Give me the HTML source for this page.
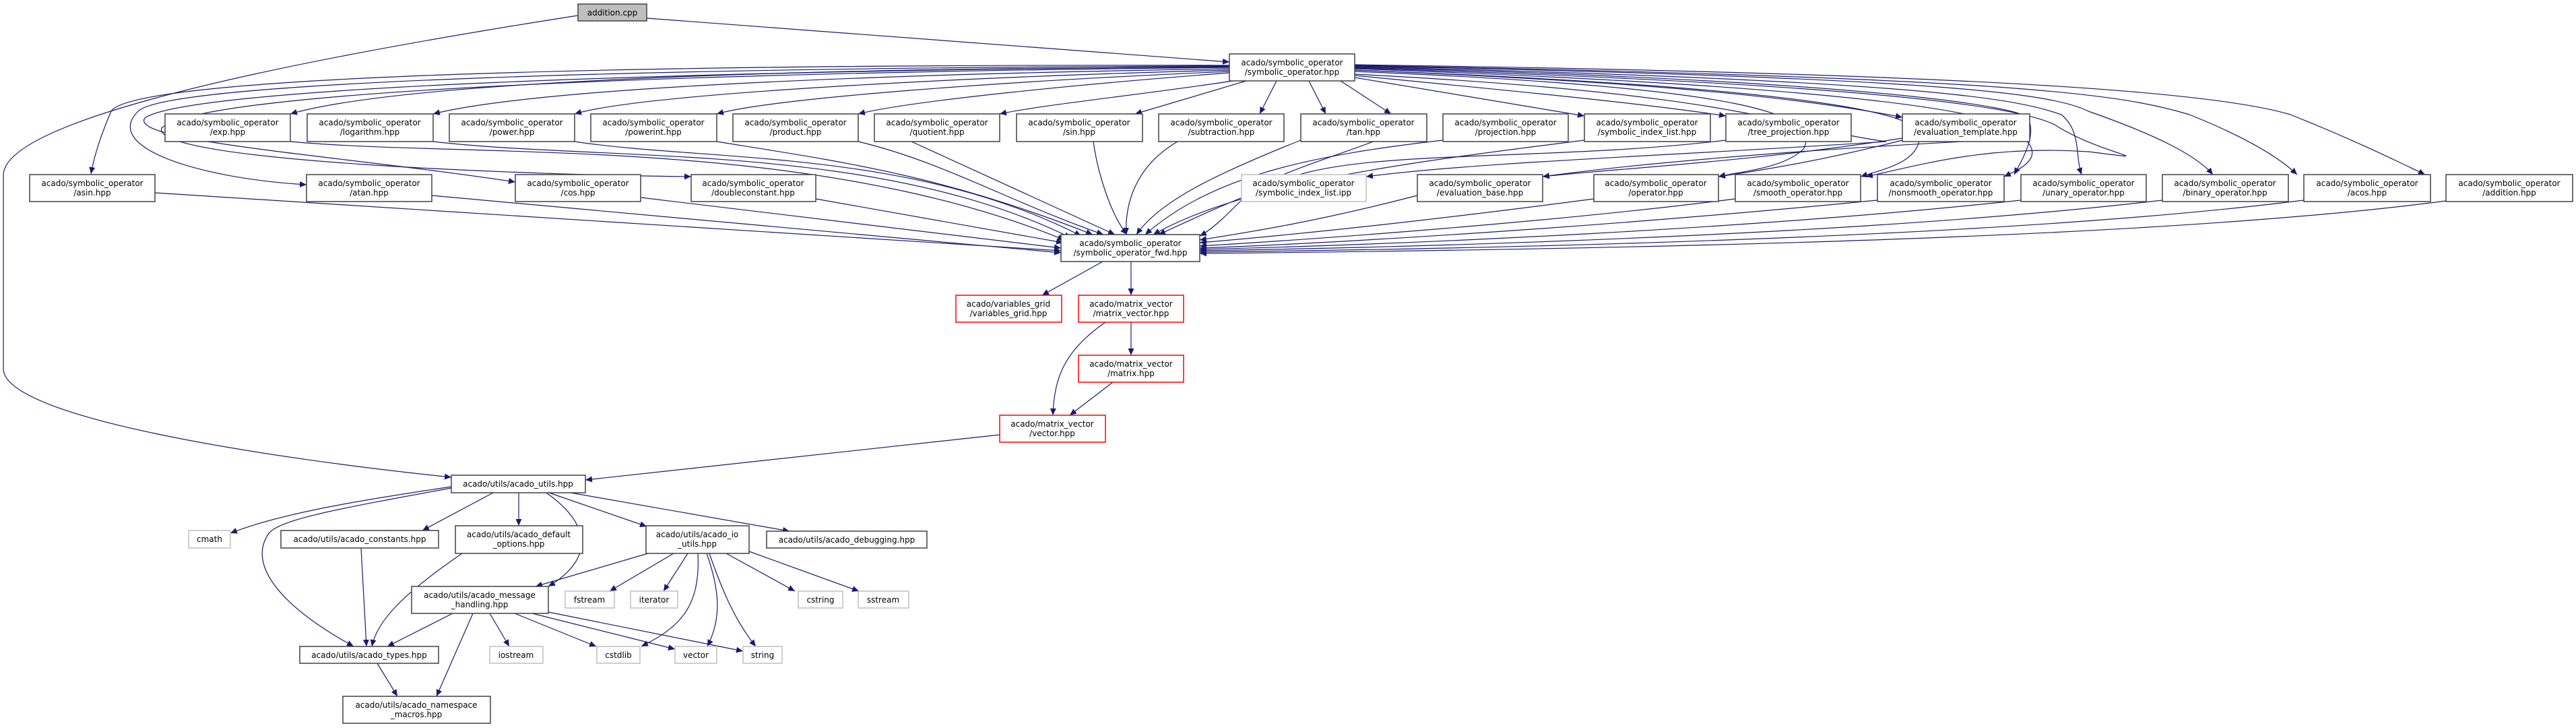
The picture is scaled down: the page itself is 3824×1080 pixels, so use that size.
<!DOCTYPE html>
<html><head><meta charset="utf-8"><style>
html,body{margin:0;padding:0;background:#fff;}
svg{display:block;}
text{font-family:"DejaVu Sans","Liberation Sans",sans-serif;font-size:12px;fill:#000;text-anchor:middle;}
.e{fill:none;stroke:#191970;stroke-width:1.2;marker-end:url(#a);}
.n{fill:#fff;stroke:#404040;stroke-width:1.5;}
.g{fill:#fff;stroke:#bfbfbf;stroke-width:1.5;}
.r{fill:#fff;stroke:#ff0000;stroke-width:1.5;}
</style></head><body>
<svg width="3824" height="1080" viewBox="0 0 3824 1080" xmlns="http://www.w3.org/2000/svg">
<defs><marker id="a" markerUnits="userSpaceOnUse" markerWidth="11" markerHeight="9" refX="10" refY="4.5" orient="auto"><path d="M0,0 L10,4.5 L0,9 Z" fill="#191970"/></marker></defs>

<!-- edges -->
<path class="e" d="M960,27 L1825,92"/>
<path class="e" d="M858,23 C300,110 5,190 5,260 L5,547 C5,620 400,680 670,708"/>
<!-- SO to row1 left -->
<path class="e" d="M1825,100 C1200,100 600,120 431,169"/>
<path class="e" d="M1825,102 C1300,110 800,130 643,169"/>
<path class="e" d="M1825,104 C1400,115 950,140 853,169"/>
<path class="e" d="M1825,106 C1500,120 1150,145 1064,169"/>
<path class="e" d="M1825,108 C1600,125 1350,150 1274,169"/>
<path class="e" d="M1830,120 C1700,140 1550,155 1484,169"/>
<path class="e" d="M1850,120 L1685,169"/>
<path class="e" d="M1895,120 L1870,169"/>
<path class="e" d="M1943,120 L1968,169"/>
<path class="e" d="M1990,120 L2065,169"/>
<path class="e" d="M2011,115 L2352,172"/>
<path class="e" d="M2011,112 C2300,140 2450,155 2562,172"/>
<path class="e" d="M2011,104 C2400,120 2650,140 2824,174"/>
<!-- SO to row2 left -->
<path class="e" d="M1825,97 C1000,95 200,110 165,165 C150,200 140,230 135,258"/>
<path class="e" d="M1825,98 C1000,100 250,120 205,165 C150,220 300,265 455,274"/>
<path class="e" d="M1825,99 C1000,105 280,130 215,175 C190,210 500,230 765,270"/>
<path class="e" d="M1825,100 C1000,108 300,135 240,190 C220,240 800,260 1026,262"/>
<!-- SO to row2 right -->
<path class="e" d="M2011,110 C2600,140 2650,190 2800,210 C2500,230 2200,240 2028,262"/>
<path class="e" d="M3012,205 C2700,220 2450,240 2290,262"/>
<path class="e" d="M2011,106 C2600,130 2700,170 2678,220 C2650,250 2580,255 2551,262"/>
<path class="e" d="M2011,104 C2700,130 2850,170 2850,200 C2850,240 2800,250 2762,262"/>
<path class="e" d="M2011,102 C2800,130 2950,170 2984,190 C3050,230 3000,250 2975,262"/>
<path class="e" d="M2011,101 C2800,125 3000,160 3050,185 C3120,230 3220,240 3100,225 C2950,215 2850,245 2770,262"/>
<path class="e" d="M2011,100 C2800,120 3000,160 3010,175 C3025,200 3000,240 2990,259"/>
<path class="e" d="M2011,99 C2900,120 3000,150 3060,170 C3090,195 3080,230 3090,259"/>
<path class="e" d="M2011,98 C2900,115 3050,140 3100,165 C3200,200 3260,230 3285,259"/>
<path class="e" d="M2011,97 C3000,115 3150,140 3250,170 C3350,210 3390,240 3410,259"/>
<path class="e" d="M2011,96 C3000,110 3300,140 3400,170 C3500,210 3560,240 3600,259"/>
<!-- evaluation_template out -->
<path class="e" d="M2824,205 C2600,240 2400,250 2290,262"/>
<path class="e" d="M2824,208 C2700,240 2600,255 2551,262"/>
<!-- row1 to fwd -->
<path class="e" d="M431,210 C700,235 1200,200 1580,356"/>
<path class="e" d="M643,210 C900,240 1300,210 1590,353"/>
<path class="e" d="M853,210 C1050,240 1350,220 1605,350"/>
<path class="e" d="M1064,210 C1250,240 1400,260 1622,348"/>
<path class="e" d="M1274,210 C1400,240 1500,300 1638,348"/>
<path class="e" d="M1353,210 L1655,348"/>
<path class="e" d="M1623,210 C1630,260 1650,320 1673,348"/>
<path class="e" d="M1748,210 C1680,250 1670,310 1672,348"/>
<path class="e" d="M1931,208 C1800,260 1720,300 1687,348"/>
<path class="e" d="M2142,208 C1950,230 1800,260 1700,348"/>
<path class="e" d="M2352,208 C2100,240 1850,270 1712,348"/>
<path class="e" d="M2562,208 C2300,240 2000,220 1900,270 C1800,310 1760,330 1720,348"/>
<!-- row2 left to fwd -->
<path class="e" d="M230,286 L1575,372"/>
<path class="e" d="M641,290 L1575,375"/>
<path class="e" d="M951,293 L1575,368"/>
<path class="e" d="M1211,295 L1578,360"/>
<!-- row2 right to fwd -->
<path class="e" d="M2104,290 C1950,330 1850,345 1781,356"/>
<path class="e" d="M2366,295 C2100,330 1900,350 1781,360"/>
<path class="e" d="M2576,295 C2300,330 1950,355 1781,365"/>
<path class="e" d="M2787,297 C2400,335 2000,360 1781,368"/>
<path class="e" d="M3000,297 C2600,340 2100,362 1781,370"/>
<path class="e" d="M3210,297 C2800,345 2200,365 1781,372"/>
<path class="e" d="M3420,297 C3000,350 2300,368 1781,374"/>
<path class="e" d="M3631,298 C3200,355 2400,370 1781,376"/>
<path class="e" d="M2100,185 C2000,230 1900,250 1850,290 C1820,320 1800,340 1781,350"/>
<!-- fwd down -->
<path class="e" d="M1637,388 L1547,438"/>
<path class="e" d="M1679,388 L1679,438"/>
<path class="e" d="M1679,478 L1679,527"/>
<path class="e" d="M1641,478 C1580,520 1565,560 1563,616"/>
<path class="e" d="M1652,567 L1588,616"/>
<path class="e" d="M1484,645 L869,712"/>
<!-- utils -->
<path class="e" d="M670,722 C550,740 420,760 342,791"/>
<path class="e" d="M732,731 L627,787"/>
<path class="e" d="M770,731 L770,780"/>
<path class="e" d="M815,731 L960,781"/>
<path class="e" d="M847,731 L1172,788"/>
<path class="e" d="M811,731 C880,780 880,830 814,870"/>
<path class="e" d="M670,724 C500,755 420,770 400,790 C370,830 400,890 525,959"/>
<path class="e" d="M536,813 L544,959"/>
<path class="e" d="M686,821 C600,880 560,920 552,959"/>
<path class="e" d="M962,821 L795,870"/>
<path class="e" d="M1000,821 L905,877"/>
<path class="e" d="M1021,821 L985,877"/>
<path class="e" d="M1036,821 C1040,900 1010,930 952,959"/>
<path class="e" d="M1049,821 C1070,880 1070,920 1050,959"/>
<path class="e" d="M1053,821 C1070,870 1090,920 1122,959"/>
<path class="e" d="M1078,821 L1180,877"/>
<path class="e" d="M1112,818 L1275,877"/>
<path class="e" d="M672,910 L575,959"/>
<path class="e" d="M702,910 L648,1033"/>
<path class="e" d="M727,910 L756,959"/>
<path class="e" d="M764,910 L885,959"/>
<path class="e" d="M790,910 L1002,963"/>
<path class="e" d="M814,908 L1103,966"/>
<path class="e" d="M560,984 L590,1033"/>

<!-- nodes -->
<rect x="858" y="6" width="102" height="25" fill="#bfbfbf" stroke="#404040" stroke-width="1.5"/><text x="909" y="23">addition.cpp</text>
<g>
<rect class="n" x="1825" y="80" width="186" height="40"/><text x="1918" y="97">acado/symbolic_operator</text><text x="1918" y="111">/symbolic_operator.hpp</text>
</g>
<!-- row1 -->
<rect class="n" x="245" y="169" width="186" height="41"/><text x="338" y="186">acado/symbolic_operator</text><text x="338" y="200">/exp.hpp</text>
<rect class="n" x="456" y="169" width="187" height="41"/><text x="549" y="186">acado/symbolic_operator</text><text x="549" y="200">/logarithm.hpp</text>
<rect class="n" x="667" y="169" width="186" height="41"/><text x="760" y="186">acado/symbolic_operator</text><text x="760" y="200">/power.hpp</text>
<rect class="n" x="877" y="169" width="187" height="41"/><text x="970" y="186">acado/symbolic_operator</text><text x="970" y="200">/powerint.hpp</text>
<rect class="n" x="1088" y="169" width="186" height="41"/><text x="1181" y="186">acado/symbolic_operator</text><text x="1181" y="200">/product.hpp</text>
<rect class="n" x="1298" y="169" width="186" height="41"/><text x="1391" y="186">acado/symbolic_operator</text><text x="1391" y="200">/quotient.hpp</text>
<rect class="n" x="1509" y="169" width="187" height="41"/><text x="1602" y="186">acado/symbolic_operator</text><text x="1602" y="200">/sin.hpp</text>
<rect class="n" x="1720" y="169" width="186" height="41"/><text x="1813" y="186">acado/symbolic_operator</text><text x="1813" y="200">/subtraction.hpp</text>
<rect class="n" x="1931" y="169" width="187" height="41"/><text x="2024" y="186">acado/symbolic_operator</text><text x="2024" y="200">/tan.hpp</text>
<rect class="n" x="2142" y="169" width="186" height="41"/><text x="2235" y="186">acado/symbolic_operator</text><text x="2235" y="200">/projection.hpp</text>
<rect class="n" x="2352" y="169" width="187" height="41"/><text x="2445" y="186">acado/symbolic_operator</text><text x="2445" y="200">/symbolic_index_list.hpp</text>
<rect class="n" x="2562" y="169" width="186" height="41"/><text x="2655" y="186">acado/symbolic_operator</text><text x="2655" y="200">/tree_projection.hpp</text>
<rect class="n" x="2824" y="169" width="189" height="41"/><text x="2918" y="186">acado/symbolic_operator</text><text x="2918" y="200">/evaluation_template.hpp</text>
<!-- row2 -->
<rect class="n" x="44" y="259" width="186" height="40"/><text x="137" y="276">acado/symbolic_operator</text><text x="137" y="290">/asin.hpp</text>
<rect class="n" x="455" y="259" width="186" height="40"/><text x="548" y="276">acado/symbolic_operator</text><text x="548" y="290">/atan.hpp</text>
<rect class="n" x="765" y="259" width="186" height="40"/><text x="858" y="276">acado/symbolic_operator</text><text x="858" y="290">/cos.hpp</text>
<rect class="n" x="1026" y="259" width="185" height="40"/><text x="1118" y="276">acado/symbolic_operator</text><text x="1118" y="290">/doubleconstant.hpp</text>
<rect class="g" x="1843" y="259" width="185" height="40"/><text x="1935" y="276">acado/symbolic_operator</text><text x="1935" y="290">/symbolic_index_list.ipp</text>
<rect class="n" x="2104" y="259" width="186" height="40"/><text x="2197" y="276">acado/symbolic_operator</text><text x="2197" y="290">/evaluation_base.hpp</text>
<rect class="n" x="2366" y="259" width="185" height="40"/><text x="2458" y="276">acado/symbolic_operator</text><text x="2458" y="290">/operator.hpp</text>
<rect class="n" x="2576" y="259" width="186" height="40"/><text x="2669" y="276">acado/symbolic_operator</text><text x="2669" y="290">/smooth_operator.hpp</text>
<rect class="n" x="2787" y="259" width="188" height="40"/><text x="2881" y="276">acado/symbolic_operator</text><text x="2881" y="290">/nonsmooth_operator.hpp</text>
<rect class="n" x="3000" y="259" width="186" height="40"/><text x="3093" y="276">acado/symbolic_operator</text><text x="3093" y="290">/unary_operator.hpp</text>
<rect class="n" x="3210" y="259" width="187" height="40"/><text x="3303" y="276">acado/symbolic_operator</text><text x="3303" y="290">/binary_operator.hpp</text>
<rect class="n" x="3420" y="259" width="188" height="40"/><text x="3514" y="276">acado/symbolic_operator</text><text x="3514" y="290">/acos.hpp</text>
<rect class="n" x="3631" y="259" width="188" height="40"/><text x="3725" y="276">acado/symbolic_operator</text><text x="3725" y="290">/addition.hpp</text>
<!-- fwd -->
<rect class="n" x="1575" y="348" width="206" height="40"/><text x="1678" y="365">acado/symbolic_operator</text><text x="1678" y="379">/symbolic_operator_fwd.hpp</text>
<!-- red -->
<rect class="r" x="1419" y="438" width="157" height="40"/><text x="1497" y="455">acado/variables_grid</text><text x="1497" y="469">/variables_grid.hpp</text>
<rect class="r" x="1601" y="438" width="156" height="40"/><text x="1679" y="455">acado/matrix_vector</text><text x="1679" y="469">/matrix_vector.hpp</text>
<rect class="r" x="1601" y="527" width="156" height="40"/><text x="1679" y="544">acado/matrix_vector</text><text x="1679" y="558">/matrix.hpp</text>
<rect class="r" x="1484" y="616" width="157" height="40"/><text x="1562" y="633">acado/matrix_vector</text><text x="1562" y="647">/vector.hpp</text>
<!-- utils -->
<rect class="n" x="670" y="705" width="199" height="26"/><text x="769" y="722">acado/utils/acado_utils.hpp</text>
<rect class="g" x="280" y="787" width="62" height="26"/><text x="311" y="804">cmath</text>
<rect class="n" x="417" y="787" width="234" height="26"/><text x="534" y="804">acado/utils/acado_constants.hpp</text>
<rect class="n" x="676" y="780" width="189" height="41"/><text x="770" y="797">acado/utils/acado_default</text><text x="770" y="811">_options.hpp</text>
<rect class="n" x="959" y="780" width="153" height="41"/><text x="1035" y="797">acado/utils/acado_io</text><text x="1035" y="811">_utils.hpp</text>
<rect class="n" x="1138" y="788" width="238" height="25"/><text x="1257" y="805">acado/utils/acado_debugging.hpp</text>
<rect class="n" x="611" y="870" width="203" height="40"/><text x="712" y="887">acado/utils/acado_message</text><text x="712" y="901">_handling.hpp</text>
<rect class="g" x="839" y="877" width="73" height="25"/><text x="875" y="894">fstream</text>
<rect class="g" x="936" y="877" width="70" height="25"/><text x="971" y="894">iterator</text>
<rect class="g" x="1185" y="877" width="66" height="25"/><text x="1218" y="894">cstring</text>
<rect class="g" x="1274" y="877" width="75" height="25"/><text x="1311" y="894">sstream</text>
<rect class="n" x="445" y="959" width="206" height="25"/><text x="548" y="976">acado/utils/acado_types.hpp</text>
<rect class="g" x="727" y="959" width="79" height="25"/><text x="766" y="976">iostream</text>
<rect class="g" x="886" y="959" width="64" height="25"/><text x="918" y="976">cstdlib</text>
<rect class="g" x="1002" y="959" width="62" height="25"/><text x="1033" y="976">vector</text>
<rect class="g" x="1103" y="959" width="58" height="25"/><text x="1132" y="976">string</text>
<rect class="n" x="509" y="1033" width="219" height="40"/><text x="618" y="1050">acado/utils/acado_namespace</text><text x="618" y="1064">_macros.hpp</text>
</svg>
</body></html>
